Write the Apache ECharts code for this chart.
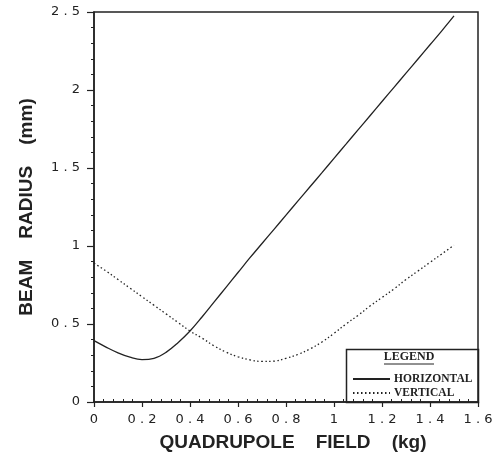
<!DOCTYPE html>
<html>
<head>
<meta charset="utf-8">
<script src="https://cdn.jsdelivr.net/npm/echarts@6/dist/echarts.min.js"></script>
<style>html,body{margin:0;padding:0;background:#fff}#c{width:499px;height:457px}</style>
</head>
<body>
<div id="c"></div>
<script>
var fieldValues = [0,0.05,0.1,0.15,0.2,0.25,0.3,0.35,0.4,0.45,0.5,0.55,0.6,0.65,0.7,0.75,0.8,0.85,0.9,0.95,1.0,1.05,1.1,1.15,1.2,1.25,1.3,1.35,1.4,1.45,1.5];
var horizontalRadius = [0.393,0.352,0.315,0.287,0.272,0.28,0.318,0.38,0.455,0.545,0.64,0.735,0.83,0.925,1.016,1.107,1.198,1.289,1.38,1.47,1.562,1.653,1.744,1.835,1.926,2.017,2.108,2.199,2.29,2.381,2.475];
var verticalRadius = [0.89,0.84,0.785,0.73,0.675,0.62,0.565,0.51,0.455,0.41,0.36,0.32,0.29,0.27,0.26,0.262,0.28,0.305,0.34,0.385,0.44,0.5,0.555,0.615,0.67,0.725,0.785,0.84,0.895,0.95,1.005];
var seriesNames = ['HORIZONTAL','VERTICAL'];
var xTitle = 'QUADRUPOLE    FIELD    (kg)';
var yTitle = 'BEAM    RADIUS    (mm)';
var legendTitle = 'LEGEND';

function pairs(xs, ys){ return xs.map(function(x,i){ return [x, ys[i]]; }); }
function spaced(v){ return String(+v.toFixed(1)).split('').join(' '); }

var ink = '#222';
var chart = echarts.init(document.getElementById('c'), null, {renderer:'canvas'});
chart.setOption({
  animation:false,
  backgroundColor:'#fff',
  grid:{left:94, top:12, right:21, bottom:53, show:true, borderColor:ink, borderWidth:1.5},
  xAxis:{
    type:'value', min:0, max:1.6, interval:0.2,
    axisLine:{lineStyle:{color:ink,width:1.5}},
    axisTick:{length:5, lineStyle:{color:ink,width:1.2}},
    minorTick:{show:true, splitNumber:5, length:-3, lineStyle:{color:ink,width:1}},
    splitLine:{show:false},
    axisLabel:{formatter:spaced, color:ink, fontFamily:'DejaVu Sans', fontSize:13, margin:11},
    name:xTitle, nameLocation:'middle', nameGap:31,
    nameTextStyle:{fontFamily:'Liberation Sans', fontWeight:'bold', fontSize:19, color:ink, padding:[0,0,0,14]}
  },
  yAxis:{
    type:'value', min:0, max:2.5, interval:0.5,
    axisLine:{lineStyle:{color:ink,width:1.5}},
    axisTick:{length:7, lineStyle:{color:ink,width:1.2}},
    minorTick:{show:true, splitNumber:5, length:3, lineStyle:{color:ink,width:1}},
    splitLine:{show:false},
    axisLabel:{formatter:spaced, color:ink, fontFamily:'DejaVu Sans', fontSize:13, margin:14},
    name:yTitle, nameLocation:'middle', nameGap:58, nameRotate:90,
    nameTextStyle:{fontFamily:'Liberation Sans', fontWeight:'bold', fontSize:19, color:ink}
  },
  legend:{
    orient:'vertical', left:347, top:368, itemWidth:37, itemHeight:14, itemGap:2,
    data:seriesNames,
    itemStyle:{opacity:0},
    textStyle:{fontFamily:'Liberation Serif', fontWeight:'bold', fontSize:11.5, color:ink, padding:[0,0,0,-1]}
  },
  graphic:[
    {type:'rect', left:344, top:347, shape:{width:132, height:53}, style:{fill:'none', stroke:ink, lineWidth:1.5}, z:1},
    {type:'text', x:409, y:357, style:{text:legendTitle, textAlign:'center', textVerticalAlign:'middle', font:'bold 12px "Liberation Serif"', fill:ink}, z:2},
    {type:'line', shape:{x1:384, y1:364, x2:434, y2:364}, style:{stroke:ink, lineWidth:1}, z:2}
  ],
  series:[
    {name:seriesNames[0], type:'line', data:pairs(fieldValues, horizontalRadius), smooth:0.4, symbol:'none', showSymbol:false,
     lineStyle:{color:ink, width:1.3, type:'solid'}, itemStyle:{color:ink}},
    {name:seriesNames[1], type:'line', data:pairs(fieldValues, verticalRadius), smooth:0.4, symbol:'none', showSymbol:false,
     lineStyle:{color:ink, width:1.3, type:[1.5,2.5]}, itemStyle:{color:ink}}
  ]
});
</script>
</body>
</html>
